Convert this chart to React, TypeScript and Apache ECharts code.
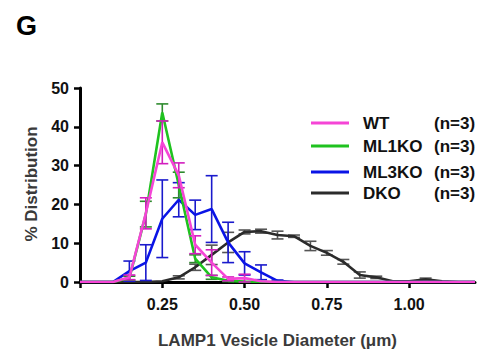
import React, { useEffect, useRef } from "react";
import * as echarts from "echarts";

const xBins = [0, 0.05, 0.1, 0.15, 0.2, 0.25, 0.3, 0.35, 0.4, 0.45, 0.5, 0.55, 0.6, 0.65, 0.7, 0.75, 0.8, 0.85, 0.9, 0.95, 1.0, 1.05, 1.1, 1.15, 1.2];

const seriesNames = ["WT", "ML1KO", "ML3KO", "DKO"];
const nCounts = ["(n=3)", "(n=3)", "(n=3)", "(n=3)"];

const wtMean = [0, 0, 0, 1.2, 17.7, 36, 27.5, 9.6, 5, 0.8, 1.0, 0.2, 0, 0, 0, 0, 0, 0, 0, 0, 0, 0, 0, 0, 0];
const wtErr = [0, 0, 0, 0.6, 4, 5.5, 3.2, 2.3, 3.3, 0.5, 1.0, 0, 0, 0, 0, 0, 0, 0, 0, 0, 0, 0, 0, 0, 0];

const ml1Mean = [0, 0, 0, 1.0, 17.5, 43.7, 25, 6, 1.2, 0.3, 0.1, 0, 0, 0, 0, 0, 0, 0, 0, 0, 0, 0, 0, 0, 0];
const ml1Err = [0, 0, 0, 0.5, 3.3, 2.2, 3.3, 1.0, 0.5, 0.2, 0, 0, 0, 0, 0, 0, 0, 0, 0, 0, 0, 0, 0, 0, 0];

const ml3Mean = [0, 0, 0, 2.8, 5, 16.3, 21.2, 17.3, 18.8, 10.2, 4.8, 2.5, 0.3, 0, 0, 0, 0, 0, 0, 0, 0, 0, 0, 0, 0];
const ml3Err = [0, 0, 0, 2.6, 4.6, 10, 4.4, 3.8, 8.6, 5.2, 3.0, 1.9, 0.2, 0, 0, 0, 0, 0, 0, 0, 0, 0, 0, 0, 0];

const dkoMean = [0, 0, 0, 0, 0, 0.2, 1.2, 3.8, 7, 10.2, 12.9, 13.1, 12.1, 11.8, 9.3, 7.5, 5.2, 1.8, 1.2, 0.2, 0.2, 0.7, 0.2, 0, 0];
const dkoErr = [0, 0, 0, 0, 0, 0, 0.4, 0.8, 2.5, 2.6, 0.5, 0.5, 1.0, 0.3, 1.2, 0.6, 0.6, 0.8, 0.3, 0.1, 0, 0.3, 0, 0, 0];

const yTicks = { min: 0, max: 50, interval: 10 };
const xTicks = { min: 0, max: 1.2, interval: 0.25 };

const lineColors = ["#f545d6", "#1fc21f", "#0a14e6", "#2b2b2b"];
const errColors = ["#d21dbe", "#2e8b2e", "#1a1acc", "#555555"];

const means = [wtMean, ml1Mean, ml3Mean, dkoMean];
const errs = [wtErr, ml1Err, ml3Err, dkoErr];

const FONT = "'Liberation Sans', Arial, sans-serif";

export default function App() {
  const ref = useRef<HTMLDivElement>(null);
  useEffect(() => {
    if (!ref.current) return;
    const chart = echarts.init(ref.current, null, { renderer: "svg" });
    const drawOrder = [3, 2, 1, 0];
    const series: any[] = [];
    drawOrder.forEach((k, idx) => {
      series.push({
        name: seriesNames[k] + " err",
        type: "custom",
        z: 2 + idx * 2,
        data: xBins.map((x, i) => [x, means[k][i] - errs[k][i], means[k][i] + errs[k][i], errs[k][i]]),
        renderItem: (params: any, api: any) => {
          const e = api.value(3);
          if (!e) return null;
          const x = api.value(0);
          const lo = api.coord([x, api.value(1)]);
          const hi = api.coord([x, api.value(2)]);
          const cw = 6;
          const style = { stroke: errColors[k], lineWidth: 1.6, fill: "none" };
          return {
            type: "group",
            children: [
              { type: "line", shape: { x1: lo[0], y1: lo[1], x2: hi[0], y2: hi[1] }, style },
              { type: "line", shape: { x1: lo[0] - cw, y1: lo[1], x2: lo[0] + cw, y2: lo[1] }, style },
              { type: "line", shape: { x1: hi[0] - cw, y1: hi[1], x2: hi[0] + cw, y2: hi[1] }, style },
            ],
          };
        },
      });
      series.push({
        name: seriesNames[k],
        type: "line",
        z: 3 + idx * 2,
        showSymbol: false,
        data: xBins.map((x, i) => [x, means[k][i]]),
        lineStyle: { color: lineColors[k], width: 2.6 },
        itemStyle: { color: lineColors[k] },
      });
    });

    const legendY = [123, 146, 172, 193];
    const legendGraphics: any[] = [];
    seriesNames.forEach((name, i) => {
      legendGraphics.push({
        type: "line",
        shape: { x1: 311, y1: legendY[i], x2: 349, y2: legendY[i] },
        style: { stroke: lineColors[i], lineWidth: 3 },
      });
      legendGraphics.push({
        type: "text",
        x: 363,
        y: legendY[i],
        style: { text: name, font: `bold 17px ${FONT}`, fill: "#111", verticalAlign: "middle" },
      });
      legendGraphics.push({
        type: "text",
        x: 434,
        y: legendY[i],
        style: { text: nCounts[i], font: `bold 17px ${FONT}`, fill: "#111", verticalAlign: "middle" },
      });
    });

    chart.setOption({
      animation: false,
      grid: { left: 80, right: 12, top: 88, bottom: 67 },
      xAxis: {
        type: "value",
        min: xTicks.min,
        max: xTicks.max,
        interval: xTicks.interval,
        name: "LAMP1 Vesicle Diameter (μm)",
        nameLocation: "middle",
        nameGap: 50,
        nameTextStyle: { fontFamily: FONT, fontWeight: "bold", fontSize: 17, color: "#3a3a3a" },
        axisLine: { lineStyle: { color: "#000", width: 3 } },
        axisTick: { show: true, length: 6, lineStyle: { color: "#000", width: 2.5 } },
        splitLine: { show: false },
        axisLabel: {
          margin: 14,
          fontFamily: FONT,
          fontWeight: "bold",
          fontSize: 16,
          color: "#111",
          showMaxLabel: false,
          formatter: (v: number) => (v === 0 || v > 1.1 ? "" : v.toFixed(2)),
        },
      },
      yAxis: {
        type: "value",
        min: yTicks.min,
        max: yTicks.max,
        interval: yTicks.interval,
        axisLine: { show: true, lineStyle: { color: "#000", width: 3 } },
        axisTick: { show: true, length: 6, lineStyle: { color: "#000", width: 2.5 } },
        splitLine: { show: false },
        axisLabel: {
          margin: 11,
          fontFamily: FONT,
          fontWeight: "bold",
          fontSize: 16,
          color: "#111",
        },
      },
      graphic: [
        {
          type: "text",
          x: 16,
          y: 12,
          style: { text: "G", font: `bold 27px ${FONT}`, fill: "#000" },
        },
        {
          type: "text",
          x: 31,
          y: 184,
          rotation: Math.PI / 2,
          style: {
            text: "% Distribution",
            font: `bold 17px ${FONT}`,
            fill: "#3a3a3a",
            align: "center",
            verticalAlign: "middle",
          },
        },
        ...legendGraphics,
      ],
      series,
    });
    return () => chart.dispose();
  }, []);
  return <div ref={ref} style={{ position: "absolute", left: 0, top: 0, width: 487, height: 354 }} />;
}
